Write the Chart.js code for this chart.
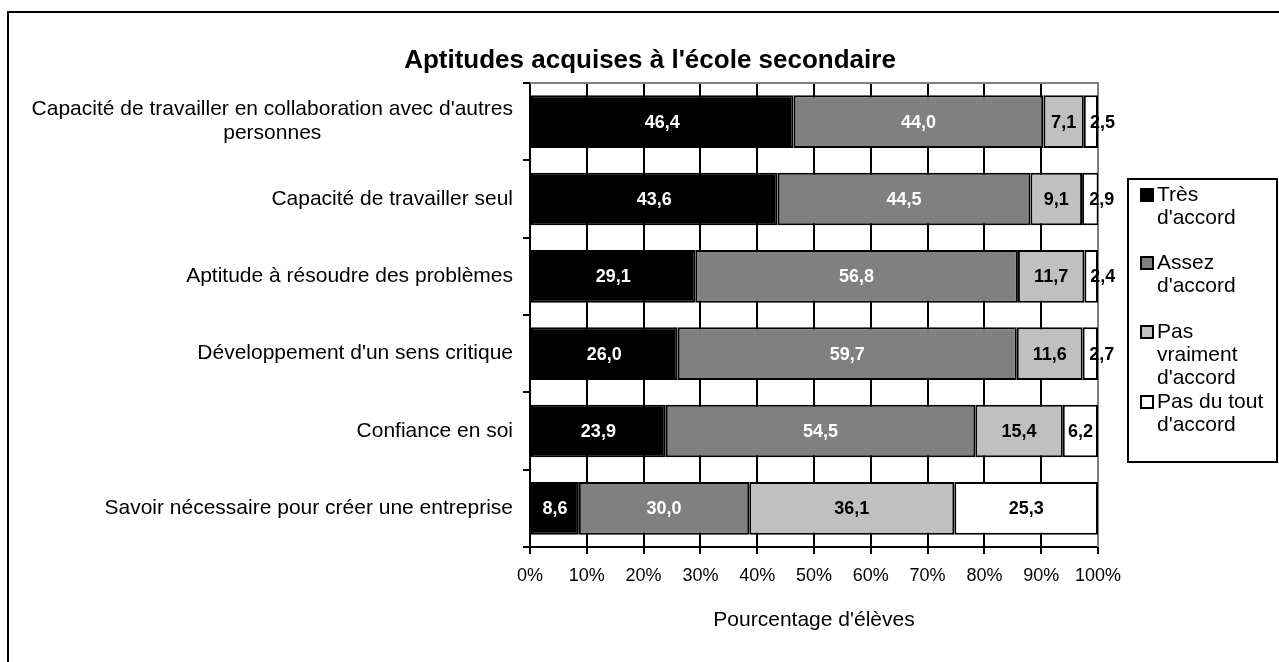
<!DOCTYPE html>
<html>
<head>
<meta charset="utf-8">
<title>Aptitudes acquises à l'école secondaire</title>
<script src="https://cdn.jsdelivr.net/npm/chart.js@4.4.1/dist/chart.umd.min.js"></script>
<style>
  html, body { margin: 0; padding: 0; background: #fff; }
  #wrap { width: 1279px; height: 662px; position: relative; }
</style>
</head>
<body>
<div id="wrap"><canvas id="chart"></canvas></div>
<script>
// Data
const chartTitle = "Aptitudes acquises à l'école secondaire";
const axisTitle = "Pourcentage d'élèves";
const categories = [
    ["Capacité de travailler en collaboration avec d'autres", "personnes"],
    "Capacité de travailler seul",
    "Aptitude à résoudre des problèmes",
    "Développement d'un sens critique",
    "Confiance en soi",
    "Savoir nécessaire pour créer une entreprise"
];
const seriesNames = [
    ["Très", "d'accord"],
    ["Assez", "d'accord"],
    ["Pas", "vraiment", "d'accord"],
    ["Pas du tout", "d'accord"]
];
const tresDaccord = [46.4, 43.6, 29.1, 26.0, 23.9, 8.6];
const assezDaccord = [44.0, 44.5, 56.8, 59.7, 54.5, 30.0];
const pasVraiment = [7.1, 9.1, 11.7, 11.6, 15.4, 36.1];
const pasDuTout = [2.5, 2.9, 2.4, 2.7, 6.2, 25.3];
const xTicks = [0, 10, 20, 30, 40, 50, 60, 70, 80, 90, 100];

const fills = ['#000000', '#808080', '#c0c0c0', '#ffffff'];
const labelColors = ['#ffffff', '#ffffff', '#000000', '#000000'];
const FONT = "Arial, 'Liberation Sans', sans-serif";

const seriesValues = [tresDaccord, assezDaccord, pasVraiment, pasDuTout];
const datasets = seriesValues.map(function (vals, i) {
    return {
        label: seriesNames[i].join(' '),
        data: vals,
        backgroundColor: fills[i],
        borderColor: '#000000',
        borderWidth: 2,
        borderSkipped: false,
        categoryPercentage: 1,
        barPercentage: 0.68
    };
});

// frame, title, plot border, value labels, y labels and legend
const decor = {
    id: 'decor',
    beforeDraw(chart) {
        const ctx = chart.ctx;
        ctx.save();
        ctx.fillStyle = '#fff';
        ctx.fillRect(0, 0, chart.width, chart.height);
        ctx.strokeStyle = '#000';
        ctx.lineWidth = 2;
        ctx.strokeRect(8, 12, chart.width + 20, chart.height + 20);
        ctx.fillStyle = '#000';
        ctx.font = 'bold 26px ' + FONT;
        ctx.textAlign = 'center';
        ctx.textBaseline = 'middle';
        ctx.fillText(chartTitle, 650, 61);
        ctx.restore();
    },
    beforeDatasetsDraw(chart) {
        const a = chart.chartArea;
        const ctx = chart.ctx;
        ctx.save();
        ctx.strokeStyle = '#808080';
        ctx.lineWidth = 2;
        ctx.beginPath();
        ctx.moveTo(a.left, a.top);
        ctx.lineTo(a.right, a.top);
        ctx.lineTo(a.right, a.bottom);
        ctx.stroke();
        ctx.restore();
    },
    afterDatasetsDraw(chart) {
        const ctx = chart.ctx;
        ctx.save();
        ctx.font = 'bold 18px ' + FONT;
        ctx.textBaseline = 'middle';
        chart.data.datasets.forEach(function (ds, i) {
            chart.getDatasetMeta(i).data.forEach(function (bar, j) {
                ctx.fillStyle = labelColors[i];
                const txt = ds.data[j].toFixed(1).replace('.', ',');
                const segW = Math.abs(bar.x - bar.base);
                const mid = (bar.x + bar.base) / 2;
                if (ctx.measureText(txt).width > segW - 4) {
                    // too narrow: label starts at the middle of the segment
                    ctx.textAlign = 'left';
                    ctx.fillText(txt, mid - 1, bar.y + 1);
                } else {
                    ctx.textAlign = 'center';
                    ctx.fillText(txt, mid, bar.y + 1);
                }
            });
        });
        ctx.restore();
    },
    afterDraw(chart) {
        const ctx = chart.ctx;
        const ys = chart.scales.y;
        ctx.save();
        ctx.fillStyle = '#000';
        ctx.font = '21px ' + FONT;
        ctx.textAlign = 'center';
        ctx.textBaseline = 'middle';
        categories.forEach(function (lab, i) {
            const lines = Array.isArray(lab) ? lab : [lab];
            const w = Math.max.apply(null, lines.map(function (l) { return ctx.measureText(l).width; }));
            const cx = ys.right - 17 - w / 2;
            const cy = ys.getPixelForValue(i);
            lines.forEach(function (l, k) {
                ctx.fillText(l, cx, cy + (k - (lines.length - 1) / 2) * 24);
            });
        });

        // legend
        ctx.strokeStyle = '#000';
        ctx.lineWidth = 2;
        ctx.strokeRect(1128, 179, 149, 283);
        ctx.textAlign = 'left';
        const itemTop = [195, 263, 332, 402];
        seriesNames.forEach(function (lines, i) {
            ctx.fillStyle = fills[i];
            ctx.fillRect(1141, itemTop[i] - 6, 12, 12);
            ctx.strokeRect(1141, itemTop[i] - 6, 12, 12);
            ctx.fillStyle = '#000';
            lines.forEach(function (l, k) {
                ctx.fillText(l, 1157, itemTop[i] + k * 23);
            });
        });
        ctx.restore();
    }
};

new Chart(document.getElementById('chart').getContext('2d'), {
    type: 'bar',
    data: {
        labels: categories.map(function (c) { return Array.isArray(c) ? c.join(' ') : c; }),
        datasets: datasets
    },
    options: {
        indexAxis: 'y',
        responsive: true,
        maintainAspectRatio: false,
        animation: false,
        layout: { padding: { top: 83, right: 181, bottom: 0, left: 0 } },
        plugins: {
            legend: { display: false },
            title: { display: false },
            tooltip: { enabled: false }
        },
        scales: {
            x: {
                stacked: true,
                min: 0,
                max: 100,
                afterFit: function (scale) { scale.height = 115; },
                afterBuildTicks: function (scale) {
                    scale.ticks = xTicks.map(function (v) { return { value: v }; });
                },
                ticks: {
                    color: '#000',
                    font: { family: FONT, size: 18 },
                    padding: 11,
                    maxRotation: 0,
                    callback: function (v) { return v + '%'; }
                },
                grid: {
                    color: function (c) { return c.tick && c.tick.value === 100 ? '#808080' : '#000'; },
                    tickColor: '#000',
                    lineWidth: 2,
                    tickLength: 7
                },
                border: { color: '#000', width: 2 },
                title: {
                    display: true,
                    text: axisTitle,
                    color: '#000',
                    font: { family: FONT, size: 21 },
                    padding: { top: 0, bottom: 29 }
                }
            },
            y: {
                stacked: true,
                afterFit: function (scale) { scale.width = 530; },
                ticks: { display: false },
                grid: {
                    offset: true,
                    drawOnChartArea: false,
                    color: '#000',
                    lineWidth: 2,
                    tickLength: 7
                },
                border: { color: '#000', width: 2 }
            }
        }
    },
    plugins: [decor]
});
</script>
</body>
</html>
